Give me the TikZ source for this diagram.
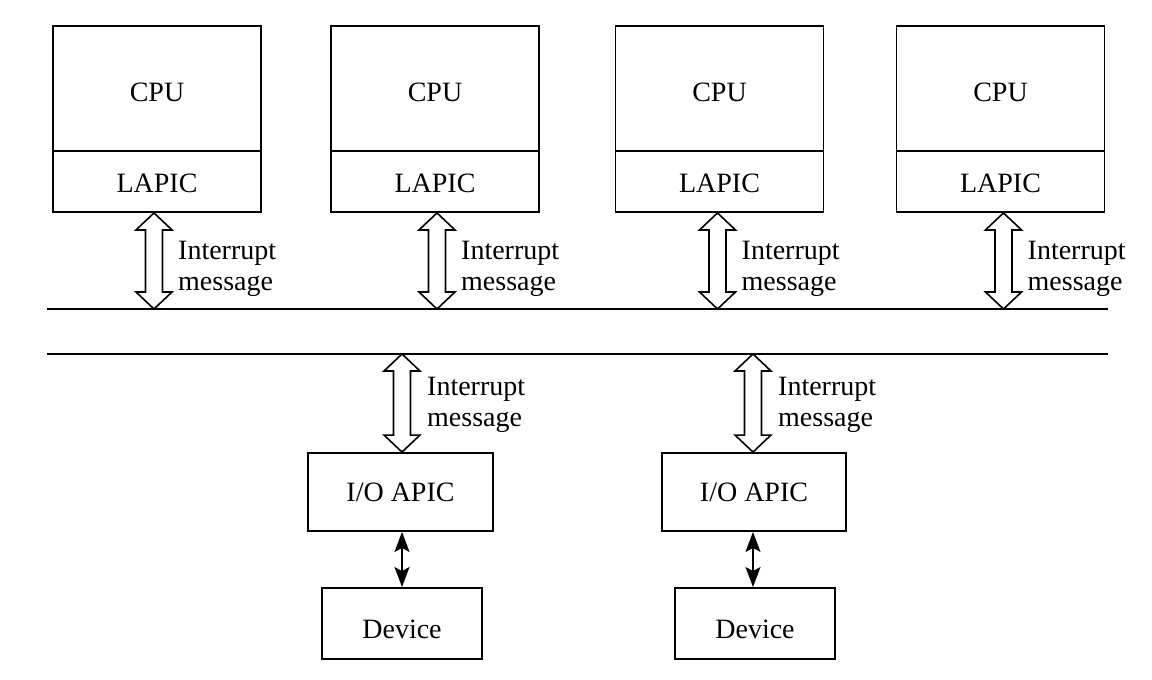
\documentclass[tikz,border=0pt]{standalone}
\usepackage{fontspec}
\setmainfont{Liberation Serif}
\usetikzlibrary{calc,arrows.meta}
\tikzset{
  box/.style={draw, line width=1.9pt, inner sep=0pt, font=\fontsize{28pt}{31pt}\selectfont},
  bus/.style={line width=1.9pt},
  harrow/.style={draw, line width=1.6pt, fill=white, line join=miter},
  lbl/.style={inner sep=0pt, align=left, anchor=west, font=\fontsize{28pt}{31pt}\selectfont},
  sarrow/.style={line width=1.8pt, {Stealth[length=20pt,width=15pt,inset=4pt]}-{Stealth[length=20pt,width=15pt,inset=4pt]}}
}
\newcommand\hollowarrow[2]{%
  \draw[harrow] let \p1=(#1), \p2=(#2) in
    (\x1,\y1) -- (\x1+18pt,\y1-17pt) -- (\x1+8.5pt,\y1-17pt) -- (\x1+8.5pt,\y2+17pt)
    -- (\x1+18pt,\y2+17pt) -- (\x1,\y2) -- (\x1-18pt,\y2+17pt) -- (\x1-8.5pt,\y2+17pt)
    -- (\x1-8.5pt,\y1-17pt) -- (\x1-18pt,\y1-17pt) -- cycle;}
\begin{document}
\begin{tikzpicture}[x=1pt,y=-1pt]
\useasboundingbox (0,0) rectangle (1152,680);
% CPU / LAPIC stacks
\foreach \i/\cx in {1/157,2/435,3/719.5,4/1000.5}{
  \node[box, minimum width=208pt, minimum height=125pt, text height=25pt, text depth=0pt] (c\i) at (\cx,88.5) {CPU};
  \node[box, minimum width=208pt, minimum height=61pt, text height=22pt, text depth=0pt] (l\i) at (\cx,181.5) {LAPIC};
}
% buses
\coordinate (busAL) at (47,309);
\coordinate (busAR) at (1108,309);
\coordinate (busBL) at (47,354);
\coordinate (busBR) at (1108,354);
\draw[bus] (busAL) -- (busAR);
\draw[bus] (busBL) -- (busBR);
% IO APICs and devices
\node[box, minimum width=185pt, minimum height=78pt] (io1) at (400.5,492) {I/O APIC};
\node[box, minimum width=184pt, minimum height=78pt] (io2) at (754,492) {I/O APIC};
\node[box, minimum width=160pt, minimum height=71pt, text height=30pt, text depth=0pt] (d1) at (402,623.5) {Device};
\node[box, minimum width=160pt, minimum height=71pt, text height=30pt, text depth=0pt] (d2) at (755,623.5) {Device};
% upper hollow arrows
\coordinate (a1t) at ($(l1.south)+(-3,0)$);
\coordinate (a2t) at ($(l2.south)+(2,0)$);
\coordinate (a3t) at ($(l3.south)+(-2,0)$);
\coordinate (a4t) at ($(l4.south)+(3,0)$);
\foreach \i in {1,2,3,4}{
  \coordinate (a\i b) at (a\i t |- busAL);
  \hollowarrow{a\i t}{a\i b}
  \node[lbl] (t\i) at ($(a\i t)+(24,56)$) {Interrupt\\message};
}
% lower hollow arrows
\coordinate (b1b) at ($(io1.north)+(1.5,0)$);
\coordinate (b2b) at ($(io2.north)+(-1,0)$);
\foreach \i in {1,2}{
  \coordinate (b\i t) at (b\i b |- busBL);
  \hollowarrow{b\i t}{b\i b}
  \node[lbl] (u\i) at ($(b\i t)+(25,51)$) {Interrupt\\message};
}
% small arrows
\draw[sarrow] (d1.north |- io1.south) -- (d1.north);
\draw[sarrow] ($(d2.north |- io2.south)+(-2,0)$) -- ($(d2.north)+(-2,0)$);
\end{tikzpicture}
\end{document}
